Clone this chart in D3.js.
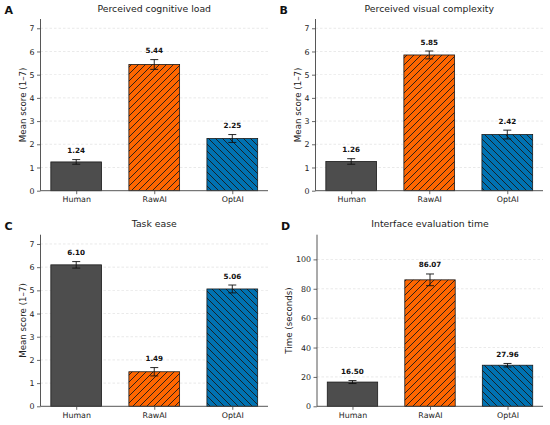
<!DOCTYPE html>
<html>
<head>
<meta charset="utf-8">
<script src="https://cdn.jsdelivr.net/npm/d3@7"></script>
<style>
  body { margin: 0; background: #fff; }
  svg { font-family: "DejaVu Sans", sans-serif; }
</style>
</head>
<body>
<div id="chart"></div>
<script>
// groups shared by all four panels
var groups = ["Human", "RawAI", "OptAI"];
var groupColors = ["#4d4d4d", "#ff6600", "#0072b2"];
var groupHatch = [null, "hatch-fwd", "hatch-back"];

// panel A
var cognitiveLoad = [1.24, 5.44, 2.25];
var cognitiveLoadErr = [0.10, 0.21, 0.17];
// panel B
var visualComplexity = [1.26, 5.85, 2.42];
var visualComplexityErr = [0.12, 0.17, 0.19];
// panel C
var taskEase = [6.10, 1.49, 5.06];
var taskEaseErr = [0.14, 0.18, 0.17];
// panel D
var evalTime = [16.50, 86.07, 27.96];
var evalTimeErr = [1.0, 4.0, 1.2];

var scoreTicks = [0, 1, 2, 3, 4, 5, 6, 7];
var timeTicks = [0, 20, 40, 60, 80, 100];

var panels = [
    {letter: "A", title: "Perceived cognitive load", ylabel: "Mean score (1\u20137)",
     values: cognitiveLoad, errs: cognitiveLoadErr, ymax: 7.4, ticks: scoreTicks, labelGap: 17.8,
     box: {left: 40.5, right: 268, top: 19, bottom: 190.7}},
    {letter: "B", title: "Perceived visual complexity", ylabel: "Mean score (1\u20137)",
     values: visualComplexity, errs: visualComplexityErr, ymax: 7.4, ticks: scoreTicks, labelGap: 17.8,
     box: {left: 315.5, right: 543, top: 19, bottom: 190.7}},
    {letter: "C", title: "Task ease", ylabel: "Mean score (1\u20137)",
     values: taskEase, errs: taskEaseErr, ymax: 7.4, ticks: scoreTicks, labelGap: 17.8,
     box: {left: 40.5, right: 268, top: 234.7, bottom: 406.3}},
    {letter: "D", title: "Interface evaluation time", ylabel: "Time (seconds)",
     values: evalTime, errs: evalTimeErr, ymax: 116.8, ticks: timeTicks, labelGap: 28,
     box: {left: 317, right: 543, top: 234.7, bottom: 406.3}}
];

var svg = d3.select("#chart").append("svg")
    .attr("width", 550)
    .attr("height", 425);

var defs = svg.append("defs");

var add_hatch = function (id, d) {
    defs.append("pattern")
        .attr("id", id)
        .attr("patternUnits", "userSpaceOnUse")
        .attr("width", 7)
        .attr("height", 7)
        .append("path")
        .attr("d", d)
        .attr("stroke", "#1a1a1a")
        .attr("stroke-width", 0.9)
        .attr("fill", "none");
};
add_hatch("hatch-fwd", "M0,7L7,0M-1,1L1,-1M6,8L8,6");
add_hatch("hatch-back", "M0,0L7,7M-1,6L1,8M6,-1L8,1");

var draw_panel = function (p) {
    var b = p.box;
    var g = svg.append("g");

    var x = d3.scaleLinear()
        .domain([-0.4575, 2.4575])
        .range([b.left, b.right]);
    var y = d3.scaleLinear()
        .domain([0, p.ymax])
        .range([b.bottom, b.top]);
    var barW = x(0.65) - x(0);

    // grid
    g.selectAll(".grid").data(p.ticks.slice(1)).enter().append("line")
        .attr("x1", b.left).attr("x2", b.right)
        .attr("y1", function (d) { return y(d); })
        .attr("y2", function (d) { return y(d); })
        .attr("stroke", "#cccccc")
        .attr("stroke-width", 0.6)
        .attr("stroke-dasharray", "2.5,2")
        .attr("opacity", 0.7);

    var data = groups.map(function (name, i) {
        return {name: name, i: i, v: p.values[i], e: p.errs[i]};
    });

    // bars: base colour, then hatch on top
    g.selectAll(".bar").data(data).enter().append("rect")
        .attr("x", function (d) { return x(d.i) - barW / 2; })
        .attr("y", function (d) { return y(d.v); })
        .attr("width", barW)
        .attr("height", function (d) { return y(0) - y(d.v); })
        .attr("fill", function (d) { return groupColors[d.i]; });

    g.selectAll(".hatch").data(data.filter(function (d) { return groupHatch[d.i]; }))
        .enter().append("rect")
        .attr("x", function (d) { return x(d.i) - barW / 2; })
        .attr("y", function (d) { return y(d.v); })
        .attr("width", barW)
        .attr("height", function (d) { return y(0) - y(d.v); })
        .attr("fill", function (d) { return "url(#" + groupHatch[d.i] + ")"; });

    g.selectAll(".edge").data(data).enter().append("rect")
        .attr("x", function (d) { return x(d.i) - barW / 2; })
        .attr("y", function (d) { return y(d.v); })
        .attr("width", barW)
        .attr("height", function (d) { return y(0) - y(d.v); })
        .attr("fill", "none")
        .attr("stroke", "#1a1a1a")
        .attr("stroke-width", 0.8);

    // error bars
    var eb = g.selectAll(".err").data(data).enter().append("g")
        .attr("stroke", "#111")
        .attr("stroke-width", 0.9);
    eb.append("line")
        .attr("x1", function (d) { return x(d.i); })
        .attr("x2", function (d) { return x(d.i); })
        .attr("y1", function (d) { return y(d.v - d.e); })
        .attr("y2", function (d) { return y(d.v + d.e); });
    eb.append("line")
        .attr("x1", function (d) { return x(d.i) - 4; })
        .attr("x2", function (d) { return x(d.i) + 4; })
        .attr("y1", function (d) { return y(d.v + d.e); })
        .attr("y2", function (d) { return y(d.v + d.e); });
    eb.append("line")
        .attr("x1", function (d) { return x(d.i) - 4; })
        .attr("x2", function (d) { return x(d.i) + 4; })
        .attr("y1", function (d) { return y(d.v - d.e); })
        .attr("y2", function (d) { return y(d.v - d.e); });

    // value labels
    g.selectAll(".val").data(data).enter().append("text")
        .attr("x", function (d) { return x(d.i); })
        .attr("y", function (d) { return y(d.v + d.e) - 6.5; })
        .attr("text-anchor", "middle")
        .attr("font-size", 7.2)
        .attr("font-weight", "bold")
        .attr("fill", "#111")
        .text(function (d) { return d.v.toFixed(2); });

    // axes
    var yAxis = g.append("g")
        .attr("transform", "translate(" + b.left + ",0)")
        .call(d3.axisLeft(y).tickValues(p.ticks).tickSize(3.5).tickPadding(2.5));
    var xAxis = g.append("g")
        .attr("transform", "translate(0," + b.bottom + ")")
        .call(d3.axisBottom(x).tickValues([0, 1, 2]).tickSize(3.5).tickPadding(2.5)
            .tickFormat(function (d) { return groups[d]; }));

    [xAxis, yAxis].forEach(function (a) {
        a.select(".domain").attr("stroke", "#444").attr("stroke-width", 0.9);
        a.selectAll(".tick line").attr("stroke", "#444").attr("stroke-width", 0.8);
        a.selectAll(".tick text")
            .attr("font-family", "DejaVu Sans, sans-serif")
            .attr("font-size", 7.9)
            .attr("fill", "#222");
    });
    yAxis.select(".domain").attr("d", "M0," + b.bottom + "V" + b.top);
    xAxis.select(".domain").attr("d", "M" + b.left + ",0H" + b.right);

    // y label
    g.append("text")
        .attr("transform", "translate(" + (b.left - p.labelGap) + "," + ((b.top + b.bottom) / 2) + ") rotate(-90)")
        .attr("text-anchor", "middle")
        .attr("dy", "0.35em")
        .attr("font-size", 8.7)
        .attr("fill", "#222")
        .text(p.ylabel);

    // title
    g.append("text")
        .attr("x", (b.left + b.right) / 2)
        .attr("y", b.top - 7.5)
        .attr("text-anchor", "middle")
        .attr("font-size", 9.3)
        .attr("fill", "#222")
        .text(p.title);

    // panel letter
    g.append("text")
        .attr("x", b.left - 36)
        .attr("y", b.top - 5)
        .attr("font-size", 11)
        .attr("font-weight", "bold")
        .attr("fill", "#111")
        .text(p.letter);
};

panels.forEach(draw_panel);
</script>
</body>
</html>
